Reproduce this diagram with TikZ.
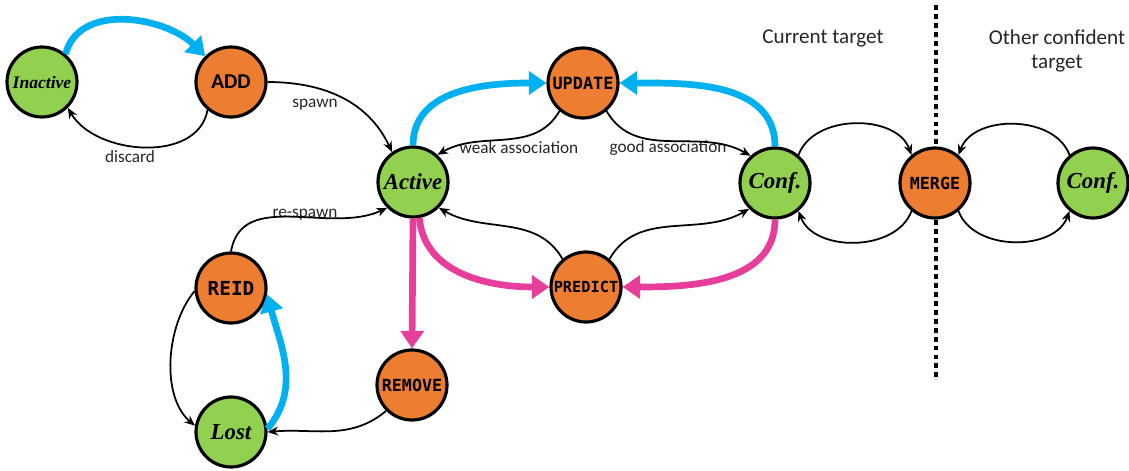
\documentclass[tikz,border=0pt]{standalone}
\usepackage{fontspec}
\setmainfont{Carlito}
\newfontfamily\statefont{Liberation Serif}
\newfontfamily\opfont{DejaVu Sans Mono}
\usetikzlibrary{arrows.meta}

\definecolor{stategreen}{RGB}{146,208,80}
\definecolor{oporange}{RGB}{237,125,49}
\definecolor{flowblue}{RGB}{0,176,240}
\definecolor{flowpink}{RGB}{232,62,155}

\tikzset{
  state/.style={circle, draw=black, line width=1.8pt, fill=stategreen,
    minimum size=1.4cm, inner sep=0pt, font=\statefont\bfseries\itshape},
  op/.style={circle, draw=black, line width=1.8pt, fill=oporange,
    minimum size=1.4cm, inner sep=0pt, font=\opfont\bfseries},
  trans/.style={-{Stealth[length=6pt,width=5pt]}, line width=1pt},
  blueflow/.style={-{Triangle[length=10pt,width=13pt]}, line width=3.8pt, flowblue},
  pinkflow/.style={-{Triangle[length=10pt,width=13pt]}, line width=3.8pt, flowpink},
  lbl/.style={font=\fontsize{9.8}{11}\selectfont, text=black!85},
  head/.style={font=\fontsize{12}{14}\selectfont, text=black!85, align=center}
}

\begin{document}
\begin{tikzpicture}
        \useasboundingbox (0,0) rectangle (22.58,9.4);

        % separator between the two targets
        \draw[line width=2.8pt, dash pattern=on 2.8pt off 2.3pt] (18.72,9.3) -- (18.72,1.86);
        \node[head] (curhead) at (16.46,8.64) {Current target};
        \node[head] (otherhead) at (21.14,8.38) {Other confident\\ target};

        % states
        \node[state, font=\statefont\bfseries\itshape\fontsize{10}{12}\selectfont] (inactive) at (0.84,7.76) {Inactive};
        \node[state, font=\statefont\bfseries\itshape\fontsize{13}{15}\selectfont] (active) at (8.26,5.76) {Active};
        \node[state, font=\statefont\bfseries\itshape\fontsize{13}{15}\selectfont] (conf) at (15.5,5.74) {Conf.};
        \node[state, font=\statefont\bfseries\itshape\fontsize{13}{15}\selectfont] (otherconf) at (21.86,5.74) {Conf.};
        \node[state, font=\statefont\bfseries\itshape\fontsize{13}{15}\selectfont] (lost) at (4.62,0.76) {Lost};

        % operations
        \node[op, font=\bfseries\fontsize{12}{14}\selectfont] (add) at (4.62,7.76) {ADD};
        \node[op, font=\opfont\bfseries\fontsize{9.6}{11}\selectfont] (update) at (11.66,7.74) {UPDATE};
        \node[op, font=\opfont\bfseries\fontsize{8.7}{10}\selectfont] (predict) at (11.72,3.66) {PREDICT};
        \node[op, font=\opfont\bfseries\fontsize{9.5}{11}\selectfont] (merge) at (18.7,5.74) {MERGE};
        \node[op, font=\opfont\bfseries\fontsize{11}{13}\selectfont] (reid) at (4.62,3.64) {REID};
        \node[op, font=\opfont\bfseries\fontsize{9.5}{11}\selectfont] (remove) at (8.24,1.7) {REMOVE};

        % labels
        \node[lbl] (discardlbl) at (2.6,6.26) {discard};
        \node[lbl] (spawnlbl) at (6.3,7.3) {spawn};
        \node[lbl] (weaklbl) at (10.38,6.44) {weak association};
        \node[lbl] (goodlbl) at (13.36,6.44) {good association};
        \node[lbl] (respawnlbl) at (6.1,5.1) {re-spawn};

        % thick transitions
        \draw[blueflow] (inactive.50) to[out=75,in=135] (add.135);
        \draw[blueflow] (active.90) to[out=90,in=180] (update.180);
        \draw[blueflow] (conf.90) to[out=90,in=0] (update.0);
        \draw[blueflow] (lost.5) to[out=50,in=-75] (reid.-10);
        \draw[pinkflow] (active.-80) to[out=-85,in=180] (predict.180);
        \draw[pinkflow] (conf.-90) to[out=-90,in=0] (predict.0);
        \draw[pinkflow] (active.-90) -- (remove.90);

        % thin transitions
        \draw[trans] (add.-130) to[out=-100,in=-60] (inactive.-45);
        \draw[trans] (add.0) to[out=0,in=115] (active.125);
        \draw[trans] (update.-130) to[out=-120,in=30] (active.48);
        \draw[trans] (update.-50) to[out=-60,in=150] (conf.132);
        \draw[trans] (predict.130) to[out=120,in=-30] (active.-45);
        \draw[trans] (predict.50) to[out=60,in=-150] (conf.-135);
        \draw[trans] (remove.-135) to[out=-140,in=5] (lost.0);
        \draw[trans] (reid.185) to[out=-130,in=140,looseness=0.85] (lost.170);
        \draw[trans] (reid.90) to[out=80,in=-155] (active.-135);
        \draw[trans] (conf.50) to[out=70,in=110] (merge.130);
        \draw[trans] (merge.-130) to[out=-110,in=-70] (conf.-50);
        \draw[trans] (otherconf.130) to[out=110,in=70] (merge.50);
        \draw[trans] (merge.-50) to[out=-70,in=-110] (otherconf.-130);
\end{tikzpicture}
\end{document}
